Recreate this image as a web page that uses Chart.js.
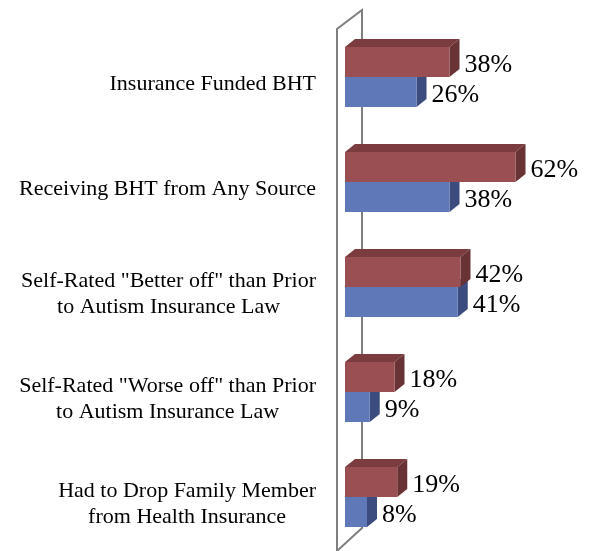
<!DOCTYPE html>
<html>
<head>
<meta charset="utf-8">
<script src="https://cdn.jsdelivr.net/npm/chart.js@4.4.1/dist/chart.umd.min.js"></script>
<style>
  html, body { margin: 0; padding: 0; background: #fff; }
  #wrap { width: 593px; height: 551px; position: relative; }
</style>
</head>
<body>
<div id="wrap"><canvas id="chart"></canvas></div>
<script>
const categories = [
  ['Insurance Funded BHT'],
  ['Receiving BHT from Any Source'],
  ['Self-Rated "Better off" than Prior', 'to Autism Insurance Law'],
  ['Self-Rated "Worse off" than Prior', 'to Autism Insurance Law'],
  ['Had to Drop Family Member', 'from Health Insurance']
];
const redValues = [38, 62, 42, 18, 19];
const blueValues = [26, 38, 41, 9, 8];

const DX = 10, DY = 8; // depth of the 3d bars
const faceColors = [
  { top: '#7a3c3f', side: '#693235' },
  { top: '#4a5e96', side: '#3d4c7e' }
];

// back wall, side and top faces, drawn before the fronts
const depthPlugin = {
  id: 'depth',
  beforeDatasetsDraw(chart) {
    const ctx = chart.ctx;
    const x0 = chart.scales.x.getPixelForValue(0);
    ctx.save();
    ctx.strokeStyle = '#7f7f7f';
    ctx.lineWidth = 2;
    ctx.beginPath();
    ctx.moveTo(x0 - 8, 553);
    ctx.lineTo(x0 - 8, 29);
    ctx.lineTo(x0 + 17, 10);
    ctx.lineTo(x0 + 17, 528);
    ctx.lineTo(x0 - 8, 551);
    ctx.stroke();

    for (let d = chart.data.datasets.length - 1; d >= 0; d--) {
      const meta = chart.getDatasetMeta(d);
      meta.data.forEach(bar => {
        const top = bar.y - bar.height / 2;
        const bottom = bar.y + bar.height / 2;
        ctx.fillStyle = faceColors[d].top;
        ctx.beginPath();
        ctx.moveTo(bar.base, top);
        ctx.lineTo(bar.base + DX, top - DY);
        ctx.lineTo(bar.x + DX, top - DY);
        ctx.lineTo(bar.x, top);
        ctx.closePath();
        ctx.fill();
        ctx.fillStyle = faceColors[d].side;
        ctx.beginPath();
        ctx.moveTo(bar.x, top);
        ctx.lineTo(bar.x + DX, top - DY);
        ctx.lineTo(bar.x + DX, bottom - DY);
        ctx.lineTo(bar.x, bottom);
        ctx.closePath();
        ctx.fill();
      });
    }
    ctx.restore();
  },
  afterDatasetsDraw(chart) {
    const ctx = chart.ctx;
    ctx.save();
    // value labels
    ctx.fillStyle = '#000';
    ctx.font = '26px "Liberation Serif"';
    ctx.textAlign = 'left';
    ctx.textBaseline = 'middle';
    chart.data.datasets.forEach((ds, d) => {
      chart.getDatasetMeta(d).data.forEach((bar, i) => {
        ctx.fillText(ds.data[i] + '%', bar.x + 15, bar.y + 3);
      });
    });
    // category labels: block right aligned, lines centred in the block
    const yScale = chart.scales.y;
    const right = chart.chartArea.left - 29;
    const lh = 26;
    ctx.font = '22px "Liberation Serif"';
    ctx.textAlign = 'center';
    categories.forEach((lines, i) => {
      const w = Math.max(...lines.map(l => ctx.measureText(l).width));
      const cx = right - w / 2;
      const cy = yScale.getPixelForValue(i) + 7;
      lines.forEach((l, k) => {
        ctx.fillText(l, cx, cy + (k - (lines.length - 1) / 2) * lh);
      });
    });
    ctx.restore();
  }
};

new Chart(document.getElementById('chart'), {
  type: 'bar',
  data: {
    labels: categories,
    datasets: [
      { label: 'Series 1', data: redValues, backgroundColor: '#9a4f52' },
      { label: 'Series 2', data: blueValues, backgroundColor: '#5f78b8' }
    ]
  },
  options: {
    indexAxis: 'y',
    responsive: true,
    maintainAspectRatio: false,
    animation: false,
    layout: { padding: { left: 345, right: 28, top: 24.5, bottom: 1.5 } },
    datasets: { bar: { barPercentage: 1, categoryPercentage: 0.571 } },
    plugins: { legend: { display: false }, tooltip: { enabled: false } },
    scales: {
      x: { display: false, min: 0, max: 80 },
      y: { display: false }
    }
  },
  plugins: [depthPlugin]
});
</script>
</body>
</html>
